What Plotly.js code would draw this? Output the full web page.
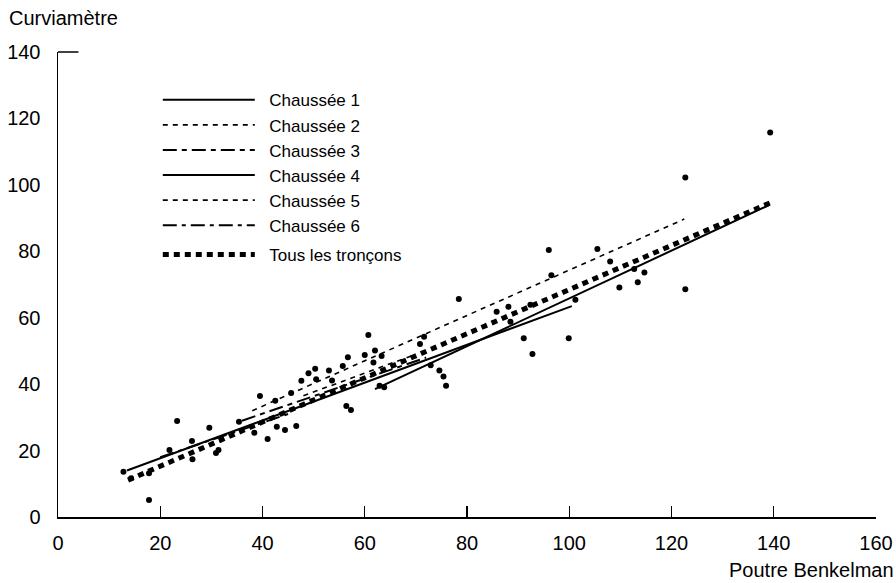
<!DOCTYPE html>
<html>
<head>
<meta charset="utf-8">
<script src="https://cdn.plot.ly/plotly-3.0.1.min.js"></script>
<style>html,body{margin:0;padding:0;background:#fff;}#chart{width:896px;height:583px;}</style>
</head>
<body>
<div id="chart"></div>
<script>
// Scatter points (Poutre Benkelman, Curviamètre)
var pointsX = [12.8,14.3,17.8,17.8,21.8,23.3,26.2,26.3,29.6,30.9,31.4,35.4,38.4,39.5,41,42.5,42.8,44.4,45.6,46.6,47.6,49,50.3,50.5,53,53.6,55.7,56.4,57.3,56.7,60,60.7,61.7,62,63.3,62.9,63.8,70.8,71.6,72.9,74.6,75.4,75.9,78.4,85.8,88.1,88.5,91.1,92.4,92.8,96,96.5,99.9,101.2,105.5,108,109.8,112.7,113.4,114.7,122.7,122.7,139.3];
var pointsY = [13.6,11.7,5.1,13.2,20.2,28.9,22.9,17.4,26.9,19.3,20.2,28.7,25.4,36.4,23.5,35,27.2,26.2,37.3,27.4,41,43.3,44.6,41.5,44.1,41.1,45.5,33.4,32.2,48.1,48.8,54.8,46.5,50.1,48.5,39.5,39.1,52.1,54.3,45.7,44.1,42.3,39.5,65.6,61.8,63.3,58.8,53.8,63.9,49.1,80.4,72.8,53.8,65.4,80.7,76.9,69.1,74.7,70.7,73.6,102.2,68.6,115.8];

// Regression segments (start / end)
var seriesNames = ["Chaussée 1","Chaussée 2","Chaussée 3","Chaussée 4","Chaussée 5","Chaussée 6","Tous les tronçons"];
var seriesX = [[13.5,100.5],[38,122.5],[36,72],[62,139.2],[48,70],[20,45],[13.7,139.3]];
var seriesY = [[14,63.5],[32,89.7],[29,48],[38.5,94],[36.5,49],[18,31],[11.1,94.6]];

var xTicks = [0,20,40,60,80,100,120,140,160];
var yTicks = [0,20,40,60,80,100,120,140];

var dashes = ["solid","5px,5px","14px,5px,5px,5px","solid","5px,5px","14px,5px,4px,5px","6px,5px"];
var widths = [2,1.6,2,2,1.6,2,5];

var traces = [];
for (var i = 0; i < seriesNames.length; i++) {
  traces.push({
    type: "scatter", mode: "lines", name: "\u00a0\u00a0" + seriesNames[i],
    x: seriesX[i], y: seriesY[i],
    line: {color: "#000", width: widths[i], dash: dashes[i]},
    legendgroup: i === 6 ? "b" : "a",
    hoverinfo: "skip"
  });
}
traces.push({
  type: "scatter", mode: "markers", x: pointsX, y: pointsY,
  marker: {color: "#000", size: 6}, showlegend: false, hoverinfo: "skip"
});

var fam = "Liberation Sans, Arial, Helvetica, sans-serif";
var tickF = {family: fam, size: 20, color: "#000"};
var legF = {family: fam, size: 17, color: "#000"};
var titleF = {family: fam, size: 20, color: "#000"};

var layout = {
  width: 896, height: 583,
  margin: {l: 58, r: 20, t: 52, b: 66},
  paper_bgcolor: "#fff", plot_bgcolor: "#fff",
  font: legF,
  showlegend: true,
  legend: {
    x: 0.122, y: 0.935, xanchor: "left", yanchor: "top",
    bgcolor: "rgba(0,0,0,0)", font: legF, itemwidth: 92,
    traceorder: "grouped", tracegroupgap: 4
  },
  xaxis: {
    range: [0, 160], tickvals: xTicks, ticktext: xTicks.map(String),
    showgrid: false, zeroline: false, showline: true, linecolor: "#000", linewidth: 1.5,
    ticks: "inside", ticklen: 11, tickwidth: 1.2, tickcolor: "#000",
    ticklabelstandoff: 7, tickfont: tickF, fixedrange: true
  },
  yaxis: {
    range: [0, 140], tickvals: yTicks, ticktext: yTicks.map(String),
    showgrid: false, zeroline: false, showline: true, linecolor: "#000", linewidth: 1.5,
    ticks: "", ticklabelstandoff: 12, tickfont: tickF, fixedrange: true
  },
  shapes: [
    {type: "line", xref: "paper", yref: "paper", x0: 0, x1: 0.025, y0: 1, y1: 1,
     line: {color: "#000", width: 1.5}}
  ],
  annotations: [
    {text: "Curviamètre", xref: "paper", yref: "paper", x: -0.062, y: 1.045,
     xanchor: "left", yanchor: "bottom", showarrow: false, font: titleF},
    {text: "Poutre Benkelman", xref: "paper", yref: "paper", x: 1.024, y: -0.085,
     xanchor: "right", yanchor: "top", showarrow: false, font: titleF}
  ]
};

Plotly.newPlot("chart", traces, layout, {staticPlot: true, displayModeBar: false});
</script>
</body>
</html>
